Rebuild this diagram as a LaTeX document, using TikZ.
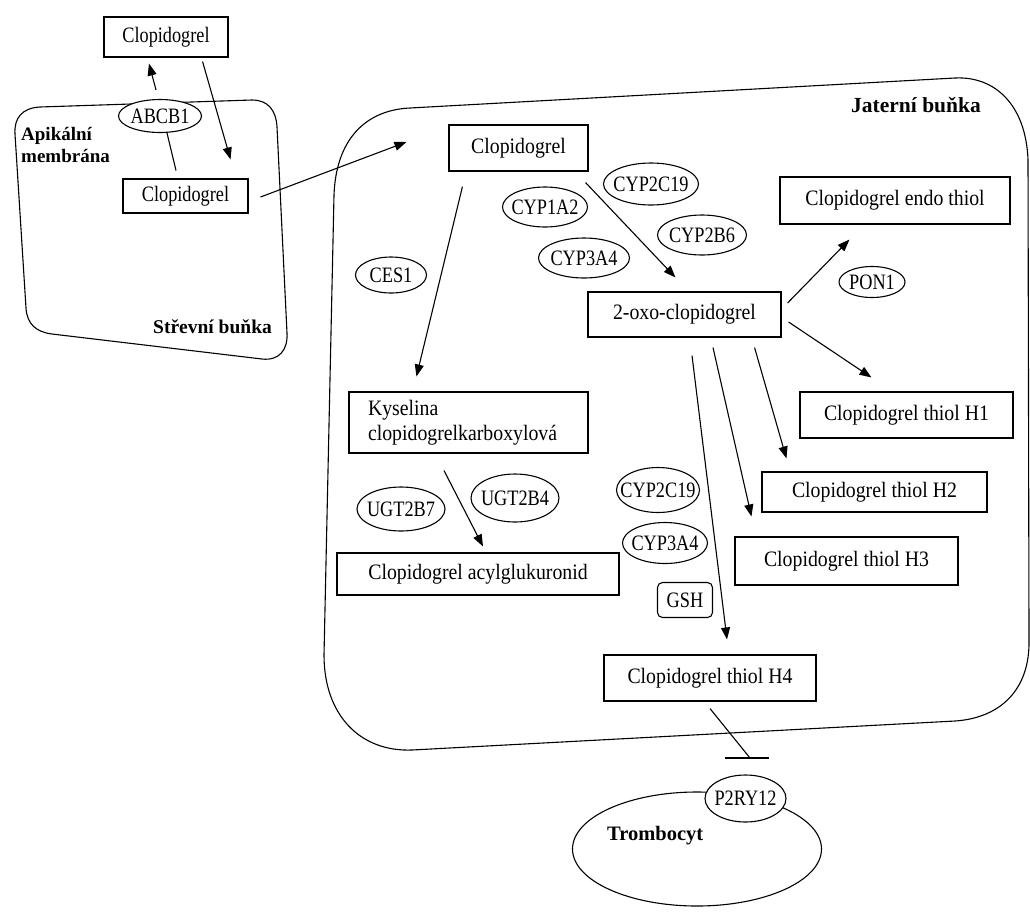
\documentclass[tikz,border=0pt]{standalone}
\usepackage{fontspec}
\setmainfont{Liberation Serif}
\newfontfamily\boxfont{Liberation Serif}[FakeStretch=0.9]
\newfontfamily\genefont{Liberation Serif}[FakeStretch=0.83]
\usetikzlibrary{calc}
\usetikzlibrary{arrows.meta}
\usetikzlibrary{shapes.geometric}
\newcommand{\gene}[1]{\makebox[0pt]{#1}}

\begin{document}
\begin{tikzpicture}[x=1pt,y=-1pt,
		molecule/.style={draw,rectangle,inner sep=0pt,line width=1.1pt,font=\boxfont\fontsize{22}{25}\selectfont},
		enzyme/.style={draw,ellipse,inner sep=0pt,line width=1.1pt,fill=white,font=\genefont\fontsize{22}{25}\selectfont},
		celltext/.style={inner sep=0pt,font=\bfseries\fontsize{20.5}{22}\selectfont},
		membrane/.style={line width=1.1pt},
		reaction/.style={-{Triangle[length=12pt,width=9pt]},line width=1.1pt}]
		\useasboundingbox (0,0) rectangle (1030,911);

		\draw [membrane] (40,107) .. controls (22,108) and (14,118) .. (15,134) -- (26,308) .. controls (27,324) and (36,332) .. (52,334) -- (262,359) .. controls (279,361) and (288,350) .. (287,333) -- (277,127) .. controls (276,110) and (268,100) .. (252,100) -- cycle;
		\draw [membrane] (410,108) -- (955,78) .. controls (995,76) and (1026,105) .. (1028,160) -- (1029,640) .. controls (1030,690) and (1000,718) .. (955,721) -- (412,750) .. controls (360,752) and (324,715) .. (324,655) -- (334,195) .. controls (336,140) and (365,110) .. (410,108) -- cycle;
		\node [draw,ellipse,line width=1.1pt,minimum width=249pt,minimum height=114pt] (platelet) at (697,849) {};

		\node [molecule,minimum width=124pt,minimum height=40pt,font=\genefont\fontsize{22}{25}\selectfont] (clopout) at (166,37) {Clopidogrel};
		\node [molecule,minimum width=125pt,minimum height=34pt,font=\genefont\fontsize{22}{25}\selectfont] (clopgut) at (185.5,196) {Clopidogrel};
		\node [enzyme,minimum width=83pt,minimum height=33pt] (abcb) at (160,116) {\gene{ABCB1}};

		\node [molecule,minimum width=139pt,minimum height=46pt] (clopliver) at (518.5,148) {Clopidogrel};
		\node [enzyme,minimum width=95pt,minimum height=42pt] (cypa) at (651,184) {\gene{CYP2C19}};
		\node [enzyme,minimum width=85pt,minimum height=40pt] (cypb) at (545,207) {\gene{CYP1A2}};
		\node [enzyme,minimum width=89pt,minimum height=40pt] (cypc) at (702,235) {\gene{CYP2B6}};
		\node [enzyme,minimum width=91pt,minimum height=40pt] (cypd) at (584,258) {\gene{CYP3A4}};
		\node [enzyme,minimum width=71pt,minimum height=36pt] (ces) at (391,275) {\gene{CES1}};
		\node [molecule,minimum width=193pt,minimum height=45pt] (oxo) at (684.5,314.5) {2-oxo-clopidogrel};
		\node [molecule,minimum width=230pt,minimum height=47pt] (endo) at (895,200.5) {Clopidogrel endo thiol};
		\node [enzyme,minimum width=66pt,minimum height=31pt] (pon) at (872,282) {\gene{PON1}};

		\node [molecule,minimum height=61pt,text width=201pt,inner xsep=19pt,align=left] (acid) at (468.5,422.5) {Kyselina\\clopidogrelkarboxylová};
		\node [enzyme,minimum width=88pt,minimum height=44pt] (ugta) at (401,509) {\gene{UGT2B7}};
		\node [enzyme,minimum width=88pt,minimum height=48pt] (ugtb) at (515,498) {\gene{UGT2B4}};
		\node [molecule,minimum width=282pt,minimum height=42pt] (acyl) at (478,574) {Clopidogrel acylglukuronid};

		\node [enzyme,minimum width=83pt,minimum height=45pt] (cype) at (658,490) {\gene{CYP2C19}};
		\node [enzyme,minimum width=85pt,minimum height=41pt] (cypf) at (665,543) {\gene{CYP3A4}};
		\node [draw,rectangle,rounded corners=5pt,line width=1.1pt,minimum width=55pt,minimum height=35pt,inner sep=0pt,font=\genefont\fontsize{22}{25}\selectfont] (gsh) at (685,600) {GSH};

		\node [molecule,minimum width=213pt,minimum height=46pt] (hone) at (906.5,415) {Clopidogrel thiol H1};
		\node [molecule,minimum width=225pt,minimum height=40pt] (htwo) at (874.5,492) {Clopidogrel thiol H2};
		\node [molecule,minimum width=223pt,minimum height=48pt] (hthree) at (846.5,561) {Clopidogrel thiol H3};
		\node [molecule,minimum width=212pt,minimum height=46pt] (hfour) at (710,678) {Clopidogrel thiol H4};

		\node [enzyme,minimum width=81pt,minimum height=47pt] (receptor) at (745.5,798.5) {\gene{P2RY12}};
		\coordinate (block) at (750,758);

		\draw [reaction] ($(abcb.north)+(-4,-9)$) -- ($(clopout.south)+(-17,6)$);
		\draw [line width=1.1pt] ($(abcb.south)+(7,0)$) -- ($(clopgut.north)+(-9.5,-8)$);
		\draw [reaction] ($(clopout.south east)+(-26,4)$) -- ($(clopgut.north east)+(-18,-19)$);
		\draw [reaction] ($(clopgut.east)+(12,1)$) -- ($(clopliver.west)+(-42,-6)$);
		\draw [reaction] ($(clopliver.south west)+(14,15)$) -- ($(acid.north west)+(68,-15)$);
		\draw [reaction] ($(clopliver.south east)+(-3,11)$) -- ($(oxo.north west)+(88,-14)$);
		\draw [reaction] ($(oxo.east)+(6,-11.5)$) -- ($(endo.south west)+(70,15)$);
		\draw [reaction] ($(oxo.east)+(7,7.5)$) -- ($(hone.north west)+(72,-14)$);
		\draw [reaction] ($(oxo.south east)+(-27,10)$) -- ($(htwo.north west)+(25,-13)$);
		\draw [reaction] ($(oxo.south)+(28.5,10)$) -- ($(hthree.north west)+(17,-20)$);
		\draw [reaction] ($(oxo.south)+(7.5,18)$) -- ($(hfour.north)+(17,-15)$);
		\draw [reaction] ($(acid.south)+(-24.5,17)$) -- ($(acyl.north)+(5,-6)$);
		\draw [line width=1.1pt] ($(hfour.south)+(0,7)$) -- (block);
		\draw [line width=1.1pt] ($(block)+(-25,0)$) -- ($(block)+(19,0)$);

		\node [celltext,anchor=north west,align=left,font=\bfseries\fontsize{19}{22}\selectfont] (apical) at (21,127) {Apikální\\membrána};
		\node [celltext,anchor=base west,font=\bfseries\fontsize{19.5}{22}\selectfont] (gutlabel) at (153,333) {Střevní buňka};
		\node [celltext,anchor=base west,font=\bfseries\fontsize{21.5}{22}\selectfont] (liverlabel) at (851,112) {Jaterní buňka};
		\node [celltext,anchor=base west] (plateletlabel) at (607,840) {Trombocyt};
	\end{tikzpicture}
\end{document}
